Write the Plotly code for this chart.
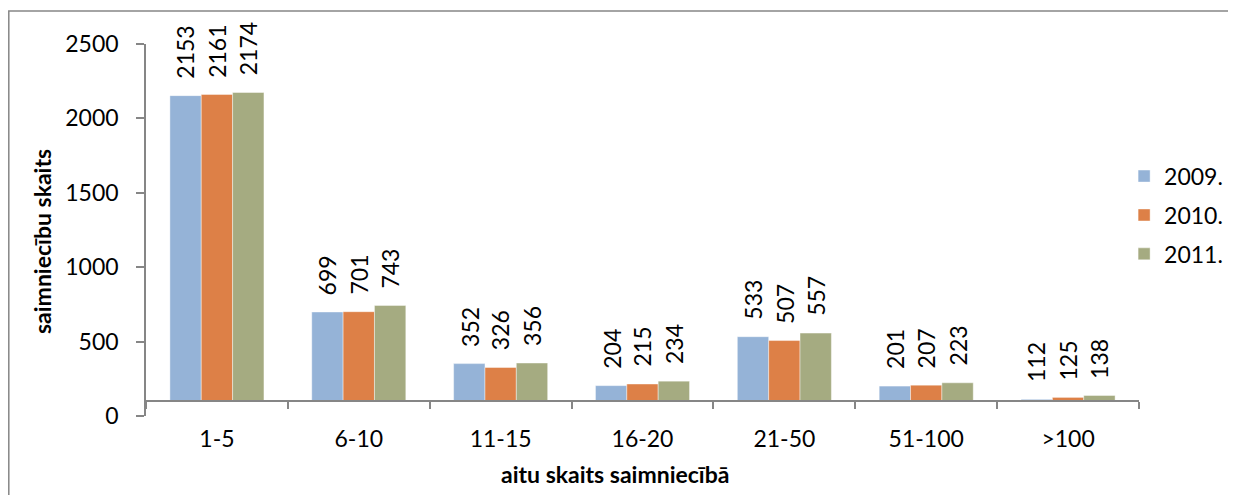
import plotly.graph_objects as go

categories = ["1-5", "6-10", "11-15", "16-20", "21-50", "51-100", ">100"]
series_names = ["2009.", "2010.", "2011."]
v2009 = [2153, 699, 352, 204, 533, 201, 112]
v2010 = [2161, 701, 326, 215, 507, 207, 125]
v2011 = [2174, 743, 356, 234, 557, 223, 138]
colors = ["#95B3D7", "#DD8047", "#A5AB81"]
x_title = "aitu skaits saimniecībā"
y_title = "saimniecību skaits"
axis_cross = 100  # horizontal axis crosses the value axis at 100

FONT = "Lato, Carlito, Calibri, sans-serif"
BAR_W = 0.221
OFFSETS = [-1.5 * BAR_W, -0.5 * BAR_W, 0.5 * BAR_W]

# page body has an 8px margin; size the figure so it fits the window
W, H = 1228, 487
ML, MT = 138, 36
PW, PH = 993, 372

fig = go.Figure()
annotations = []
for name, vals, col, off in zip(series_names, [v2009, v2010, v2011], colors, OFFSETS):
    fig.add_trace(go.Bar(
        x=categories,
        y=[v - axis_cross for v in vals],
        base=axis_cross,
        name=name,
        legendgroup=name,
        width=BAR_W,
        offset=off,
        marker=dict(color=col, line=dict(color="rgba(255,255,255,0.7)", width=0.6)),
        customdata=vals,
        hovertemplate="%{x}: %{customdata}<extra>" + name + "</extra>",
    ))
    for i, v in enumerate(vals):
        annotations.append(dict(
            x=i + off + BAR_W / 2, y=v, xref="x", yref="y",
            text=str(v), textangle=-90, showarrow=False,
            xanchor="center", yanchor="bottom", yshift=15,
            font=dict(family=FONT, size=23, color="#000000"),
        ))

# axis titles (placed like the original, centred on the chart area)
annotations.append(dict(
    x=(607 - ML) / PW, y=(MT + PH - 466) / PH, xref="paper", yref="paper",
    text="<b>" + x_title + "</b>", showarrow=False, xanchor="center", yanchor="middle",
    font=dict(family=FONT, size=23, color="#000000"),
))
annotations.append(dict(
    x=(34 - ML) / PW, y=(MT + PH - 234) / PH, xref="paper", yref="paper",
    text="<b>" + y_title + "</b>", showarrow=False, xanchor="center", yanchor="middle",
    textangle=-90, font=dict(family=FONT, size=23, color="#000000"),
))

fig.update_layout(
    width=W, height=H,
    margin=dict(l=ML, r=W - ML - PW, t=MT, b=H - MT - PH, autoexpand=False),
    paper_bgcolor="white", plot_bgcolor="white",
    barmode="group", bargap=0.34, bargroupgap=0,
    font=dict(family=FONT, size=23, color="#000000"),
    showlegend=True,
    legend=dict(x=0.985, xanchor="left", y=0.54, yanchor="middle",
                font=dict(family=FONT, size=23), itemwidth=30,
                tracegroupgap=6, bgcolor="rgba(0,0,0,0)"),
    xaxis=dict(
        anchor="free", position=axis_cross / 2500,
        range=[-0.5, len(categories) - 0.5],
        showline=True, linecolor="#868686", linewidth=1.5,
        ticks="outside", tickson="boundaries", ticklen=7, tickcolor="#868686", tickwidth=1.5,
        ticklabelstandoff=18,
        showgrid=False, zeroline=False,
        tickfont=dict(family=FONT, size=23),
    ),
    yaxis=dict(
        range=[0, 2500], dtick=500, tick0=0,
        showline=True, linecolor="#868686", linewidth=1.5,
        ticks="outside", ticklen=8, tickcolor="#868686", tickwidth=1.5,
        showgrid=False, zeroline=False,
        tickfont=dict(family=FONT, size=23),
        ticklabelstandoff=13,
    ),
    annotations=annotations,
    shapes=[dict(type="rect", xref="paper", yref="paper",
                 x0=(0.8 - ML) / PW, x1=1.2, y0=-0.5, y1=(MT + PH - 3) / PH,
                 line=dict(color="#868686", width=1.5), fillcolor="rgba(0,0,0,0)", layer="below")],
)

fig.write_html("out.html")
